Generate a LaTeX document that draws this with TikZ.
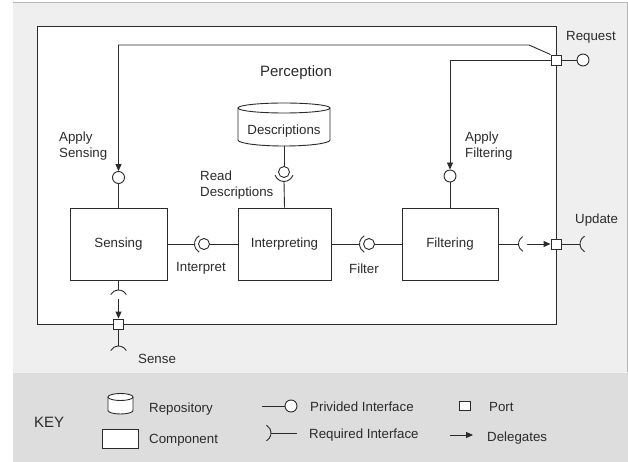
\documentclass[tikz,border=0pt]{standalone}
\usepackage{fontspec}
\setmainfont{Liberation Sans}
\usetikzlibrary{arrows.meta}
\definecolor{topbg}{HTML}{EFEFEF}
\definecolor{keybg}{HTML}{DDDDDD}
\definecolor{ink}{HTML}{2B2B2B}
\newcommand\myfs[2]{\fontsize{#1bp}{#2bp}\selectfont}
\tikzset{
  ln/.style={draw=ink, line width=0.9bp},
  comp/.style={rectangle, draw=ink, line width=0.9bp, fill=white, inner sep=0, minimum height=72bp, font=\myfs{13.3}{16}, text=ink},
  ball/.style={circle, draw=ink, line width=0.9bp, fill=white, inner sep=0, minimum size=#1},
  ball/.default=12bp,
  portbox/.style={rectangle, draw=ink, line width=0.9bp, fill=white, inner sep=0, minimum size=10bp},
  deleg/.style={ln, -{Triangle[length=7bp,width=6bp]}},
  lbl/.style={inner sep=0, font=\myfs{13.3}{16}, text=ink},
  lblw/.style={lbl, anchor=base west},
  lblml/.style={lbl, align=left, anchor=north west},
}
\begin{document}
\begin{tikzpicture}[x=1bp,y=1bp]
\useasboundingbox (0,0) rectangle (628,-462);
% backgrounds
\fill[white] (0,0) rectangle (628,-462);
\fill[topbg] (13,-2.5) rectangle (628,-372);
\draw[black!28, line width=0.8bp] (13,-2.5) -- (627,-2.5) -- (627,-372);
\fill[keybg] (13,-372) rectangle (628,-462);
\draw[white!60!keybg, line width=1bp] (13,-372) -- (628,-372);

% frame
\draw[ln, fill=white] (37,-26) rectangle (556,-324);
\node[lbl, anchor=base, font=\myfs{15}{18}] (title) at (296,-77) {Perception};

% ports
\node[portbox] (reqport) at (556,-60) {};
\node[portbox] (uport) at (556,-244) {};
\node[portbox] (sport) at (118.5,-324) {};

% components
\node[comp, minimum width=97bp] (sens) at (118.5,-244) {Sensing};
\node[comp, minimum width=93bp] (interp) at (284.5,-244) {Interpreting};
\node[comp, minimum width=96bp] (filt) at (450,-244) {Filtering};

% repository
\draw[ln, fill=white] (238,-108) -- (238,-140) arc[start angle=180,end angle=360,x radius=46,y radius=6] -- (330,-108);
\draw[ln, fill=white] (284,-108) ellipse[x radius=46, y radius=5];
\node[lbl] (desc) at (284,-130.8) {Descriptions};
\coordinate (descb) at (284,-146);

% Read Descriptions
\coordinate (rdc) at (284,-172);
\node[ball=11bp] (rdball) at (rdc) {};
\draw[ln] (rdc) ++(200:9.5) arc[start angle=200,end angle=340,radius=9.5];
\coordinate (rdsock) at (284,-181.5);
\draw[ln] (descb) -- (rdball.north);
\draw[ln] (rdsock) -- (interp.north);
\node[lblml] (rdlbl) at (200,-170.5) {Read\\Descriptions};

% Request and Apply interfaces
\node[ball] (reqball) at (583,-60) {};
\draw[ln] (reqport.east) -- (reqball.west);
\node[lblw] (reqlbl) at (566,-41) {Request};

\node[ball] (asball) at (118.5,-177.5) {};
\node[ball] (afball) at (450,-176) {};
\coordinate (tr1) at (529,-45);
\coordinate (tr2) at (118.5,-45);
\draw[deleg] (reqport.north west) -- (tr1) -- (tr2) -- (asball.north);
\draw[deleg] (reqport.west) -- (afball.north |- reqport.west) -- (afball.north);
\draw[ln] (asball.south) -- (sens.north);
\draw[ln] (afball.south) -- (filt.north);
\node[lblml] (aslbl) at (59,-132) {Apply\\Sensing};
\node[lblml] (aflbl) at (465,-132) {Apply\\Filtering};

% Interpret
\coordinate (isc) at (204,-244);
\node[ball=11bp] (iball) at (isc) {};
\draw[ln] (isc) ++(120:9.5) arc[start angle=120,end angle=240,radius=9.5];
\coordinate (isock) at (194.5,-244);
\draw[ln] (sens.east) -- (isock);
\draw[ln] (iball.east) -- (interp.west);
\node[lblw] (ilbl) at (176,-272) {Interpret};

% Filter
\coordinate (fsc) at (369,-244);
\node[ball=11bp] (fball) at (fsc) {};
\draw[ln] (fsc) ++(120:9.5) arc[start angle=120,end angle=240,radius=9.5];
\coordinate (fsock) at (359.5,-244);
\draw[ln] (interp.east) -- (fsock);
\draw[ln] (fball.east) -- (filt.west);
\node[lblw] (flbl) at (349,-274) {Filter};

% Update
\coordinate (usc) at (527,-244);
\draw[ln] (usc) ++(120:8.5) arc[start angle=120,end angle=240,radius=8.5];
\coordinate (usock) at (518.5,-244);
\draw[ln] (filt.east) -- (usock);
\draw[deleg] (usc) -- (uport.west);
\coordinate (uxsc) at (589,-244);
\draw[ln] (uxsc) ++(120:9) arc[start angle=120,end angle=240,radius=9];
\coordinate (uxsock) at (580,-244);
\draw[ln] (uport.east) -- (uxsock);
\node[lblw] (ulbl) at (575,-224) {Update};

% Sense
\coordinate (ssc) at (118.5,-299);
\draw[ln] (ssc) ++(30:9) arc[start angle=30,end angle=150,radius=9];
\coordinate (ssock) at (118.5,-290);
\draw[ln] (sens.south) -- (ssock);
\draw[deleg] (ssc) -- (sport.north);
\coordinate (sxsc) at (118.5,-355);
\draw[ln] (sxsc) ++(30:9) arc[start angle=30,end angle=150,radius=9];
\coordinate (sxsock) at (118.5,-346);
\draw[ln] (sport.south) -- (sxsock);
\node[lblw] (slbl) at (138,-363) {Sense};

% KEY
\node[lblw, font=\myfs{15}{18}] (key) at (34,-427) {KEY};
\draw[ln, fill=white] (108,-397) -- (108,-410.5) arc[start angle=180,end angle=360,x radius=12.5,y radius=3.5] -- (133,-397);
\draw[ln, fill=white] (120.5,-397) ellipse[x radius=12.5, y radius=3.5];
\node[lblw] (krep) at (149,-412.5) {Repository};
\node[rectangle, draw=ink, line width=0.9bp, fill=white, minimum width=36bp, minimum height=19bp, inner sep=0] (kcomp) at (120,-438.5) {};
\node[lblw] (kcompl) at (149,-443) {Component};

\coordinate (kp0) at (262,-406);
\node[ball] (kpball) at (291,-406) {};
\draw[ln] (kp0) -- (kpball.west);
\node[lblw] (kprov) at (310,-411.7) {Privided Interface};

\coordinate (krc) at (262,-433);
\draw[ln] (krc) ++(-60:9) arc[start angle=-60,end angle=60,radius=9];
\coordinate (kr0) at (271,-433);
\coordinate (kr1) at (297,-433);
\draw[ln] (kr0) -- (kr1);
\node[lblw] (kreq) at (309,-438) {Required Interface};

\node[portbox, minimum width=11bp, minimum height=9bp] (kport) at (464.5,-406) {};
\node[lblw] (kportl) at (489,-411.7) {Port};
\coordinate (kd0) at (450,-435);
\coordinate (kd1) at (473,-435);
\draw[deleg] (kd0) -- (kd1);
\node[lblw] (kdel) at (487,-441) {Delegates};
\end{tikzpicture}
\end{document}
